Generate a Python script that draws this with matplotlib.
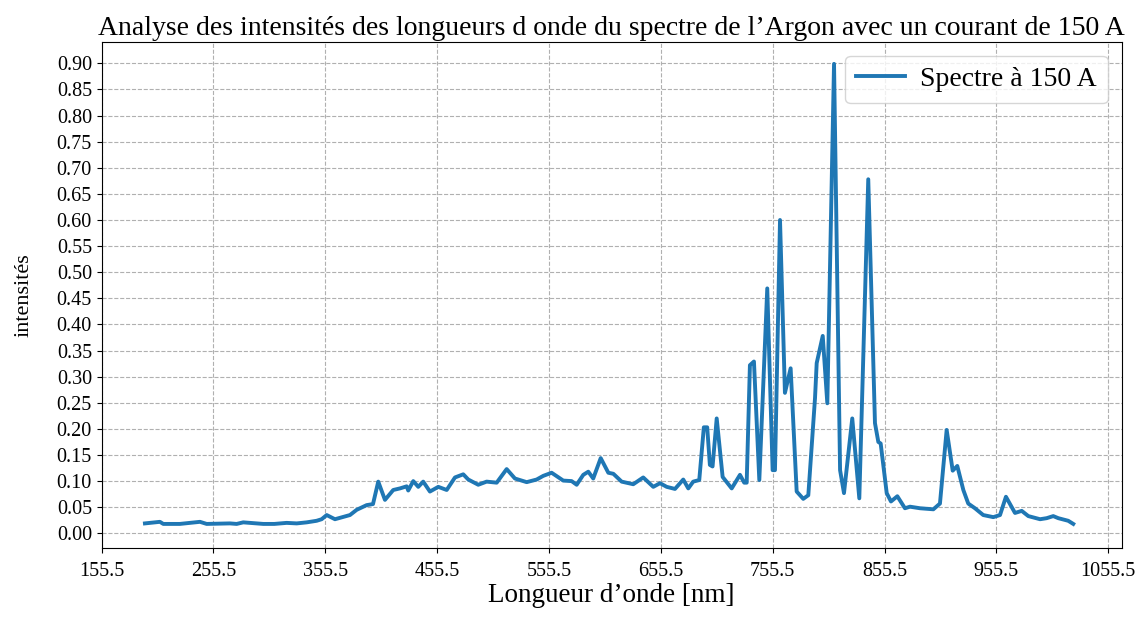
import numpy as np
import matplotlib
matplotlib.use("Agg")
import matplotlib.pyplot as plt

# spectre de l'argon, courant 150 A
longueur_onde = [
    194.2, 207.6, 210.6, 225.4, 243.4, 249.4, 270.2, 276.2, 282.1, 300.0,
    309.9, 320.9, 329.9, 338.8, 347.7, 352.2, 356.7, 364.1, 377.5, 383.5,
    392.4, 398.1, 402.8, 408.8, 416.2, 422.2, 428.2, 429.6, 434.1, 438.6,
    443.0, 449.0, 456.5, 464.0, 471.4, 478.8, 483.3, 492.2, 499.7, 508.7,
    517.6, 525.0, 535.5, 544.4, 550.3, 557.8, 568.2, 575.7, 580.2, 586.1,
    590.6, 595.0, 601.7, 608.5, 613.0, 620.4, 630.8, 639.7, 648.7, 654.7,
    660.7, 668.1, 675.5, 680.0, 684.4, 689.8, 693.9, 696.9, 699.3, 701.7,
    705.4, 710.7, 718.8, 726.2, 730.0, 732.2, 735.1, 738.7, 743.5, 750.6,
    755.4, 757.5, 762.0, 766.4, 771.5, 776.9, 782.8, 787.3, 793.3, 794.8,
    800.2, 804.3, 810.3, 815.7, 819.2, 826.6, 832.9, 840.9, 846.9, 849.9,
    852.0, 857.4, 861.2, 866.9, 873.7, 878.2, 887.2, 899.1, 905.0, 911.0,
    916.4, 920.5, 925.9, 930.3, 936.3, 943.7, 952.7, 958.7, 964.0, 972.1,
    978.1, 984.0, 994.5, 1000.4, 1006.3, 1010.8, 1019.7, 1024.2,
]
intensite = [
    0.019, 0.022, 0.018, 0.018, 0.022, 0.018, 0.019, 0.018, 0.021, 0.018,
    0.018, 0.020, 0.019, 0.021, 0.024, 0.027, 0.035, 0.027, 0.035, 0.045,
    0.054, 0.056, 0.099, 0.064, 0.083, 0.086, 0.090, 0.082, 0.100, 0.089,
    0.099, 0.080, 0.089, 0.083, 0.107, 0.113, 0.103, 0.093, 0.099, 0.097,
    0.123, 0.105, 0.098, 0.103, 0.110, 0.116, 0.101, 0.100, 0.093, 0.112,
    0.118, 0.105, 0.144, 0.116, 0.114, 0.099, 0.094, 0.107, 0.089, 0.096,
    0.089, 0.085, 0.103, 0.086, 0.099, 0.102, 0.203, 0.203, 0.131, 0.128,
    0.220, 0.108, 0.086, 0.112, 0.097, 0.097, 0.322, 0.329, 0.102, 0.469,
    0.121, 0.121, 0.600, 0.269, 0.316, 0.080, 0.066, 0.073, 0.259, 0.326,
    0.378, 0.249, 0.899, 0.121, 0.077, 0.220, 0.067, 0.678, 0.211, 0.175,
    0.172, 0.077, 0.061, 0.071, 0.048, 0.051, 0.048, 0.046, 0.057, 0.198,
    0.120, 0.129, 0.083, 0.057, 0.048, 0.035, 0.031, 0.035, 0.070, 0.039,
    0.043, 0.033, 0.027, 0.029, 0.033, 0.029, 0.024, 0.018,
]

plt.rcParams['font.family'] = ['Liberation Serif', 'DejaVu Serif']
plt.rcParams['font.size'] = 14.5

fig, ax = plt.subplots(figsize=(11.46, 6.19), dpi=100)
fig.subplots_adjust(left=0.0887, right=0.9788, top=0.9326, bottom=0.1142)

ax.plot(longueur_onde, intensite, color='tab:blue', linewidth=2.8, label='Spectre à 150 A')

ax.set_xticks(np.arange(155.5, 1056, 100))
ax.set_yticks(np.arange(0, 0.91, 0.05))
ax.yaxis.set_major_formatter(matplotlib.ticker.FormatStrFormatter('%.2f'))
ax.set_xlim(155.5, 1067.5)
ax.set_ylim(-0.0287, 0.9414)
ax.tick_params(axis='x', pad=6)

ax.grid(True, linestyle='--', color='#b0b0b0')
ax.set_xlabel('Longueur d’onde [nm]', fontsize=19.5, labelpad=2)
ax.set_ylabel('intensités', fontsize=16, labelpad=17)
ax.set_title('Analyse des intensités des longueurs d onde du spectre de l’Argon avec un courant de 150 A',
             fontsize=20, pad=5)
ax.legend(loc='upper right', fontsize=20, handlelength=1.75, handletextpad=0.55)

fig.savefig('out.png', dpi=100)
